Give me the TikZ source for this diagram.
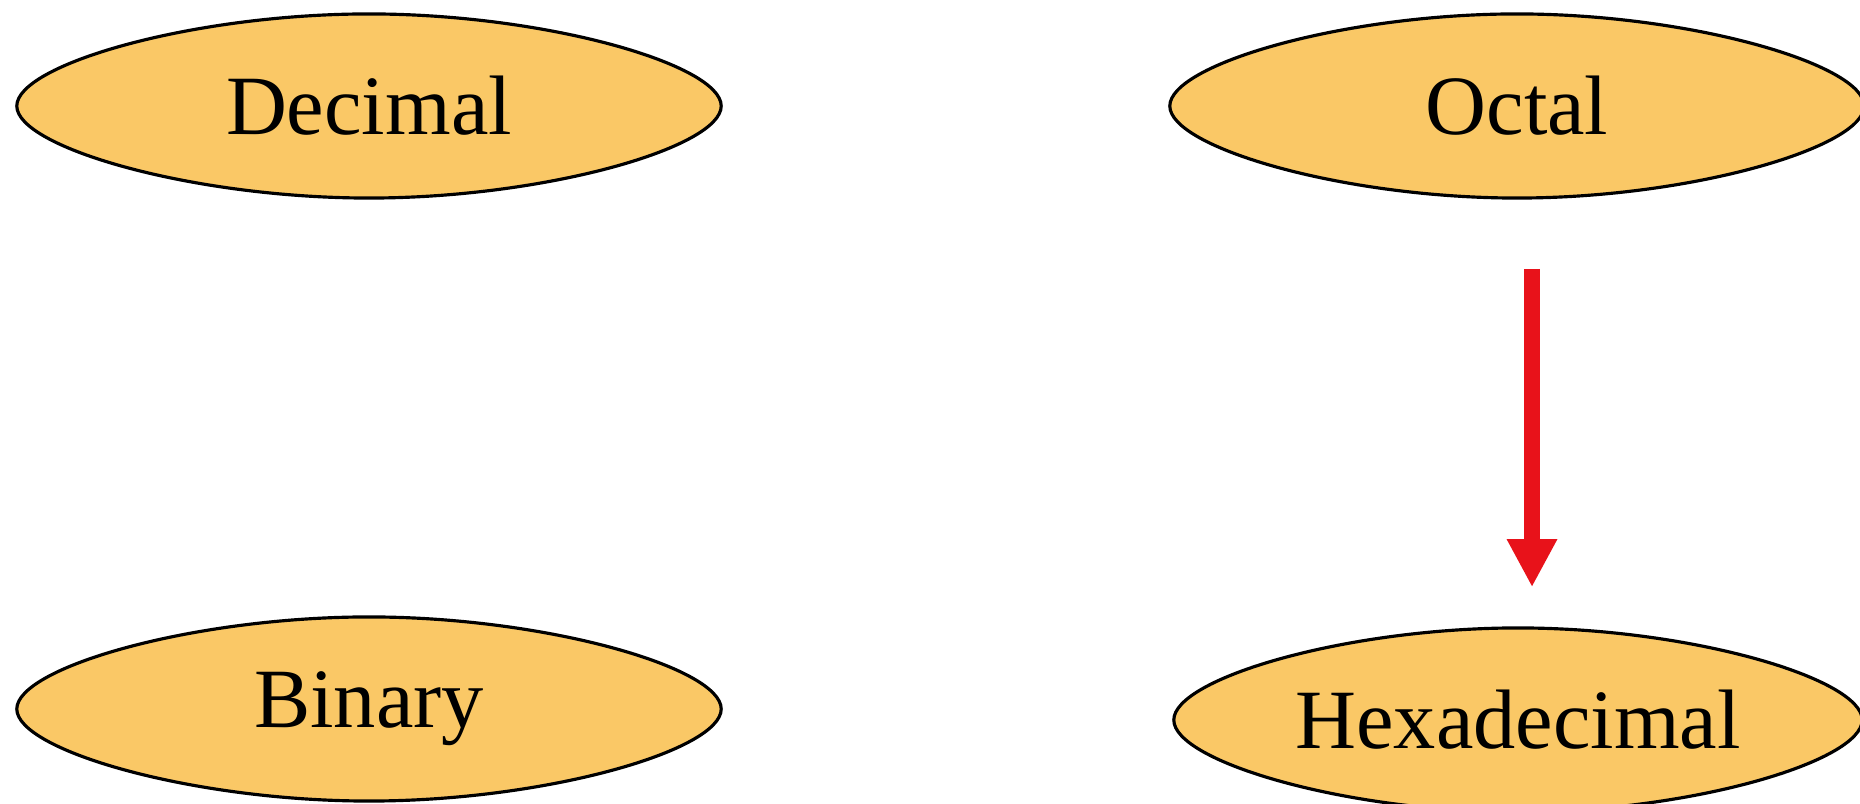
\documentclass[tikz,border=0pt]{standalone}
\usepackage{fontspec}
\setmainfont{Liberation Serif}
\usetikzlibrary{shapes.geometric,arrows.meta}
\definecolor{nodefill}{RGB}{250,200,102}
\definecolor{arrowred}{RGB}{232,18,26}
% lens-like outline: centre (#1,#2) in picture units, half-width #3, half-height #4 (cm)
\newcommand\lensat[4]{%
  \begin{scope}[shift={(#1,#2)},x=#3,y=#4]
    \filldraw[lensline] (-1,0) .. controls (-1,0.45) and (-0.5,1) .. (0,1)
      .. controls (0.5,1) and (1,0.45) .. (1,0)
      .. controls (1,-0.45) and (0.5,-1) .. (0,-1)
      .. controls (-0.5,-1) and (-1,-0.45) .. cycle;
  \end{scope}}
\begin{document}
\begin{tikzpicture}[x=0.01cm,y=-0.01cm,
  lensline/.style={draw=black,line width=0.9pt,fill=nodefill},
  numnode/.style={ellipse,inner sep=0pt,font=\fontsize{24}{28}\selectfont},
  conv/.style={draw=arrowred,line width=4.8pt,
    -{Triangle[length=13.7pt,width=13.4pt]}}]
\useasboundingbox (0,0) rectangle (1860,804);
\fill[white] (0,0) rectangle (1860,804);
\lensat{369}{106}{3.52cm}{0.92cm}
\node[numnode,minimum width=7.04cm,minimum height=1.84cm] (dec) at (369,106) {Decimal};
\lensat{1517}{106}{3.47cm}{0.92cm}
\node[numnode,minimum width=6.94cm,minimum height=1.84cm] (oct) at (1517,106) {Octal};
\lensat{369}{709}{3.52cm}{0.92cm}
\node[numnode,minimum width=7.04cm,minimum height=1.84cm] (bin) at (369,709) {Binary};
\lensat{1518}{720}{3.44cm}{0.92cm}
\node[numnode,minimum width=6.88cm,minimum height=1.84cm] (hex) at (1518,720) {Hexadecimal};
\draw[conv,shorten <=0.7cm,shorten >=0.4cm]
  ([xshift=0.15cm]oct.south) -- ([xshift=0.15cm]oct.south |- hex.north);
\end{tikzpicture}
\end{document}
